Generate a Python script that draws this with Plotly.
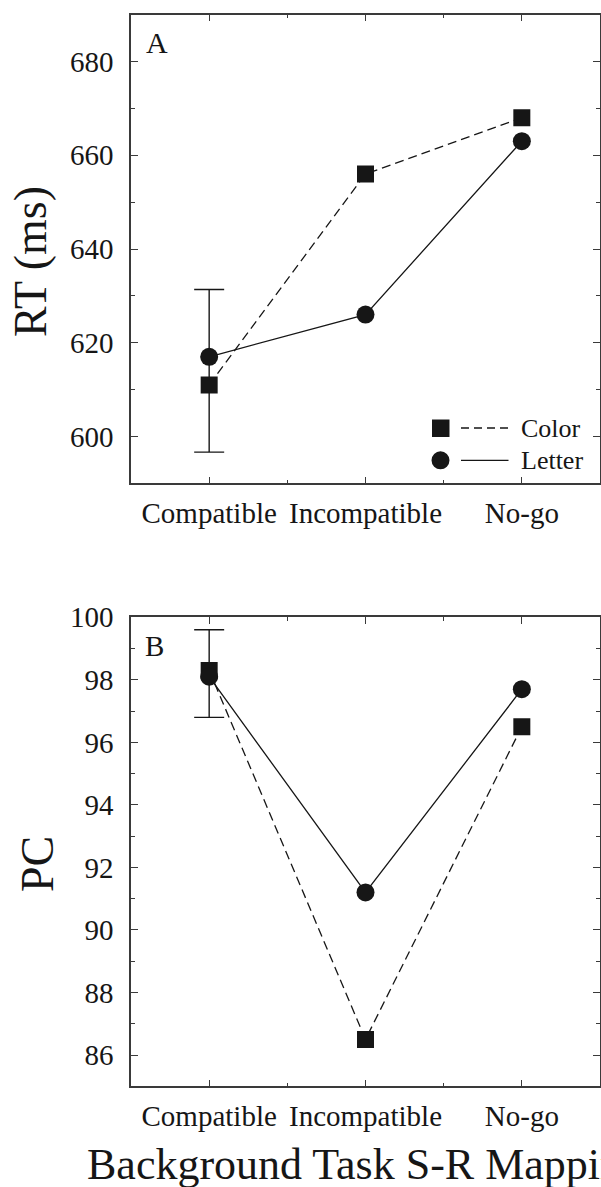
import plotly.graph_objects as go

# ---------------- data ----------------
categories = ["Compatible", "Incompatible", "No-go"]
series_names = ["Color", "Letter"]

rt_color = [611, 656, 668]
rt_letter = [617, 626, 663]
rt_err_center = [614.0]
rt_err_half = [17.35]

pc_color = [98.3, 86.5, 96.5]
pc_letter = [98.1, 91.2, 97.7]
pc_err_center = [98.2]
pc_err_half = [1.4]

rt_ticks = [600, 620, 640, 660, 680]
pc_ticks = [86, 88, 90, 92, 94, 96, 98, 100]

# ---------------- layout helpers ----------------
W, H = 601, 1187
L, R = 131, 600
FONT = "Liberation Serif"
INK = "#161616"
AXC = "#3a3a3a"


def px(xp):
    return (xp - L) / (R - L)


def py(yp):
    return 1 - yp / H


xidx = list(range(len(categories)))

fig = go.Figure()


def add_panel(xa, ya, color_vals, letter_vals, ec, eh):
    fig.add_trace(go.Scatter(
        x=[xidx[0]], y=ec, mode="markers", xaxis=xa, yaxis=ya,
        marker=dict(size=1, color="rgba(0,0,0,0)"),
        error_y=dict(type="data", array=eh, visible=True, color=INK,
                     thickness=1.4, width=15),
        showlegend=False, hoverinfo="skip"))
    fig.add_trace(go.Scatter(
        x=xidx, y=color_vals, mode="lines+markers", xaxis=xa, yaxis=ya,
        name=series_names[0],
        line=dict(color=INK, width=1.3, dash="9px,5px"),
        marker=dict(symbol="square", size=17, color=INK),
        showlegend=False))
    fig.add_trace(go.Scatter(
        x=xidx, y=letter_vals, mode="lines+markers", xaxis=xa, yaxis=ya,
        name=series_names[1],
        line=dict(color=INK, width=1.3),
        marker=dict(symbol="circle", size=18, color=INK),
        showlegend=False))


add_panel("x", "y", rt_color, rt_letter, rt_err_center, rt_err_half)
add_panel("x2", "y2", pc_color, pc_letter, pc_err_center, pc_err_half)

common_x = dict(
    range=[-0.5, 2.5], tickmode="array", tickvals=xidx, ticktext=categories,
    ticks="inside", ticklen=7, tickwidth=1.4, tickcolor=AXC,
    showline=True, linecolor=AXC, linewidth=1.5, mirror="ticks",
    showgrid=False, zeroline=False,
    tickfont=dict(family=FONT, size=29, color=INK),
    ticklabelstandoff=3,
    minor=dict(tickmode="array", tickvals=[0.5, 1.5], ticks="inside",
               ticklen=4, tickwidth=1.4, tickcolor=AXC, showgrid=False),
    domain=[0, 1],
)
common_y = dict(
    ticks="inside", ticklen=7, tickwidth=1.4, tickcolor=AXC,
    showline=True, linecolor=AXC, linewidth=1.5, mirror="ticks",
    showgrid=False, zeroline=False,
    tickfont=dict(family=FONT, size=29, color=INK),
    ticklabelstandoff=10,
)

fig.update_layout(
    width=W, height=H,
    margin=dict(l=L, r=W - R, t=0, b=0, pad=0, autoexpand=False),
    paper_bgcolor="white", plot_bgcolor="white",
    showlegend=False,
    xaxis=dict(common_x, anchor="y"),
    yaxis=dict(common_y, anchor="x", range=[590, 690], tickmode="array",
               tickvals=rt_ticks,
               minor=dict(tickmode="linear", tick0=590, dtick=10,
                          ticks="inside", ticklen=4, tickwidth=1.4,
                          tickcolor=AXC, showgrid=False),
               domain=[py(483.3), py(14.7)]),
    xaxis2=dict(common_x, anchor="y2"),
    yaxis2=dict(common_y, anchor="x2", range=[85, 100], tickmode="array",
                tickvals=pc_ticks,
                minor=dict(tickmode="linear", tick0=85, dtick=1,
                           ticks="inside", ticklen=4, tickwidth=1.4,
                           tickcolor=AXC, showgrid=False),
                domain=[py(1086.3), py(617.3)]),
)

ann = []
# axis titles
ann.append(dict(text="RT (ms)", x=px(31), y=py(262), xref="paper", yref="paper",
                textangle=-90, showarrow=False, xanchor="center", yanchor="middle",
                font=dict(family=FONT, size=46, color=INK)))
ann.append(dict(text="PC", x=px(37), y=py(864), xref="paper", yref="paper",
                textangle=-90, showarrow=False, xanchor="center", yanchor="middle",
                font=dict(family=FONT, size=46, color=INK)))
ann.append(dict(text="Background Task S-R Mapping", x=0.5, y=py(1164),
                xref="paper", yref="paper", showarrow=False,
                xanchor="center", yanchor="middle",
                font=dict(family=FONT, size=44, color=INK)))
# panel letters
ann.append(dict(text="A", x=px(144), y=py(42), xref="paper", yref="paper",
                showarrow=False, xanchor="left", yanchor="middle",
                font=dict(family=FONT, size=30, color=INK)))
ann.append(dict(text="B", x=px(143), y=py(646), xref="paper", yref="paper",
                showarrow=False, xanchor="left", yanchor="middle",
                font=dict(family=FONT, size=29, color=INK)))
# legend texts
ann.append(dict(text=series_names[0], x=px(519), y=py(428), xref="paper", yref="paper",
                showarrow=False, xanchor="left", yanchor="middle",
                font=dict(family=FONT, size=26, color=INK)))
ann.append(dict(text=series_names[1], x=px(519), y=py(460), xref="paper", yref="paper",
                showarrow=False, xanchor="left", yanchor="middle",
                font=dict(family=FONT, size=26, color=INK)))

shapes = []
# legend symbols
shapes.append(dict(type="rect", xref="paper", yref="paper",
                   x0=px(432), x1=px(449.5), y0=py(437), y1=py(419.5),
                   fillcolor=INK, line=dict(width=0)))
shapes.append(dict(type="line", xref="paper", yref="paper",
                   x0=px(461), x1=px(508.5), y0=py(428), y1=py(428),
                   line=dict(color=INK, width=1.3, dash="8px,5px")))
shapes.append(dict(type="circle", xref="paper", yref="paper",
                   x0=px(431.5), x1=px(449.5), y0=py(469.3), y1=py(451.3),
                   fillcolor=INK, line=dict(width=0)))
shapes.append(dict(type="line", xref="paper", yref="paper",
                   x0=px(461), x1=px(508.5), y0=py(460.3), y1=py(460.3),
                   line=dict(color=INK, width=1.3)))

fig.update_layout(annotations=ann, shapes=shapes)

fig.write_html(
    "out.html",
    config={"displayModeBar": False},
    post_script="document.body.style.margin='0';"
                "document.body.style.overflow='hidden';"
                "document.documentElement.style.overflow='hidden';",
)
